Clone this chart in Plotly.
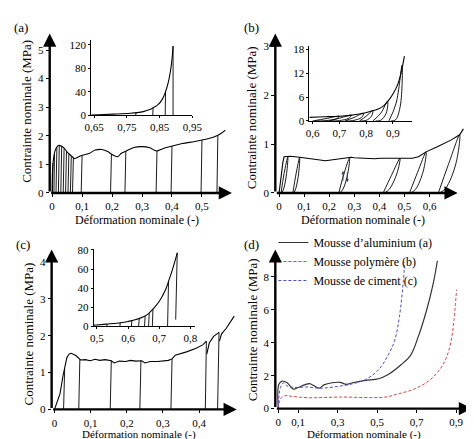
import plotly.graph_objects as go

W, H = 474, 439
FONT = "Liberation Serif"

# ---------------- Panel (a): aluminium foam ----------------
a_strain = [0, 0.003, 0.0106, 0.021, 0.037, 0.053, 0.07, 0.074, 0.096, 0.123, 0.144, 0.166, 0.187,
            0.198, 0.219, 0.230, 0.246, 0.273, 0.3, 0.326, 0.348, 0.369, 0.401, 0.434, 0.476, 0.508,
            0.54, 0.562, 0.578]
a_stress = [0, 1.04, 1.5, 1.66, 1.6, 1.4, 1.24, 1.2, 1.3, 1.38, 1.5, 1.52, 1.44, 1.36, 1.27, 1.38,
            1.46, 1.59, 1.62, 1.58, 1.47, 1.55, 1.64, 1.73, 1.80, 1.87, 1.96, 2.07, 2.2]
a_unl_top_x = [0.003, 0.008, 0.016, 0.024, 0.032, 0.040, 0.048, 0.056, 0.064, 0.071, 0.1, 0.198,
               0.246, 0.35, 0.4, 0.5, 0.553]
a_unl_top_y = [1.04, 1.35, 1.6, 1.66, 1.63, 1.56, 1.46, 1.37, 1.28, 1.23, 1.31, 1.36, 1.46, 1.47,
               1.64, 1.85, 2.02]
a_unl_bot_x = [0.001, 0.006, 0.013, 0.021, 0.029, 0.037, 0.045, 0.053, 0.061, 0.068, 0.097, 0.195,
               0.243, 0.347, 0.397, 0.497, 0.55]
a_xticks = [0, 0.1, 0.2, 0.3, 0.4, 0.5]
a_xlabels = ["0", "0,1", "0,2", "0,3", "0,4", "0,5"]
a_yticks = [0, 1, 2, 3, 4, 5]
a_ylabels = ["0", "1", "2", "3", "4", "5"]

# inset (a)
ai_strain = [0.641, 0.68, 0.72, 0.76, 0.78, 0.80, 0.82, 0.83, 0.845, 0.858, 0.868, 0.876, 0.883,
             0.888, 0.891]
ai_stress = [0.3, 1.0, 2.0, 3.3, 4.3, 6.0, 9.5, 12.5, 18, 27, 40, 55, 75, 97, 118]
ai_unl_top_x = [0.665, 0.778, 0.83, 0.868, 0.891]
ai_unl_top_y = [0.8, 4.2, 12.5, 40, 118]
ai_unl_bot_x = [0.664, 0.777, 0.829, 0.867, 0.891]
ai_xticks = [0.65, 0.75, 0.85, 0.95]
ai_xlabels = ["0,65", "0,75", "0,85", "0,95"]
ai_yticks = [0, 40, 80, 120]
ai_ylabels = ["0", "40", "80", "120"]

# ---------------- Panel (b): polymer foam ----------------
b_strain = [0, 0.008, 0.015, 0.02, 0.044, 0.082, 0.1, 0.133, 0.15, 0.185, 0.2, 0.236, 0.25, 0.287,
            0.3, 0.338, 0.35, 0.38, 0.403, 0.43, 0.467, 0.5, 0.531, 0.556, 0.586, 0.633, 0.685,
            0.72, 0.735]
b_stress = [0, 0.35, 0.62, 0.74, 0.75, 0.73, 0.72, 0.69, 0.68, 0.66, 0.67, 0.69, 0.71, 0.73, 0.72,
            0.71, 0.72, 0.70, 0.71, 0.71, 0.71, 0.70, 0.71, 0.74, 0.84, 0.95, 1.08, 1.19, 1.31]
b_loops_x = [[0.008, 0.02, 0.035, 0.03, 0.018, 0.01],
             [0.055, 0.068, 0.082, 0.078, 0.066, 0.058],
             [0.238, 0.258, 0.281, 0.274, 0.255, 0.242],
             [0.415, 0.448, 0.482, 0.47, 0.44, 0.42],
             [0.52, 0.552, 0.586, 0.575, 0.545, 0.525],
             [0.635, 0.675, 0.72, 0.705, 0.665, 0.64]]
b_loops_y = [[0, 0.4, 0.74, 0.4, 0.08, 0],
             [0, 0.4, 0.73, 0.4, 0.08, 0],
             [0, 0.38, 0.72, 0.4, 0.08, 0],
             [0, 0.36, 0.71, 0.4, 0.08, 0],
             [0, 0.42, 0.84, 0.45, 0.08, 0],
             [0, 0.58, 1.19, 0.6, 0.1, 0]]
b_xticks = [0, 0.1, 0.2, 0.3, 0.4, 0.5, 0.6]
b_xlabels = ["0", "0,1", "0,2", "0,3", "0,4", "0,5", "0,6"]
b_yticks = [0, 1, 2, 3]
b_ylabels = ["0", "1", "2", "3"]

# inset (b)
bi_strain = [0.588, 0.62, 0.66, 0.70, 0.74, 0.78, 0.82, 0.845, 0.865, 0.883, 0.90, 0.917, 0.93, 0.943]
bi_stress = [0.9, 1.0, 1.1, 1.2, 1.4, 1.8, 2.5, 3.0, 3.8, 5.1, 6.8, 9.0, 12.0, 16.3]
bi_loops_x = [[0.60, 0.65, 0.70, 0.69, 0.65, 0.61],
              [0.66, 0.70, 0.745, 0.735, 0.70, 0.67],
              [0.72, 0.755, 0.79, 0.783, 0.75, 0.725],
              [0.775, 0.80, 0.825, 0.82, 0.80, 0.78],
              [0.825, 0.855, 0.88, 0.875, 0.855, 0.835],
              [0.885, 0.912, 0.934, 0.928, 0.91, 0.893]]
bi_loops_y = [[0, 0.6, 1.2, 0.6, 0.1, 0],
              [0, 0.7, 1.45, 0.7, 0.1, 0],
              [0, 0.9, 1.95, 0.9, 0.1, 0],
              [0, 1.2, 2.6, 1.2, 0.15, 0],
              [0, 2.0, 5.0, 2.0, 0.2, 0],
              [0, 4.5, 14.0, 4.0, 0.3, 0]]
bi_xticks = [0.6, 0.7, 0.8, 0.9]
bi_xlabels = ["0,6", "0,7", "0,8", "0,9"]
bi_yticks = [0, 6, 12, 18]
bi_ylabels = ["0", "6", "12", "18"]

# ---------------- Panel (c): cement foam ----------------
c_strain = [0, 0.006, 0.015, 0.024, 0.028, 0.034, 0.040, 0.046, 0.059, 0.072, 0.085, 0.099, 0.112,
            0.125, 0.14, 0.157, 0.165, 0.18, 0.196, 0.21, 0.225, 0.241, 0.25, 0.265, 0.285, 0.30,
            0.315, 0.325, 0.334, 0.365, 0.39, 0.41, 0.42]
c_stress = [0, 0.15, 0.42, 0.94, 1.1, 1.4, 1.5, 1.52, 1.46, 1.34, 1.35, 1.32, 1.36, 1.33, 1.35,
            1.32, 1.26, 1.31, 1.30, 1.33, 1.31, 1.32, 1.26, 1.3, 1.30, 1.32, 1.33, 1.37, 1.47, 1.56,
            1.65, 1.75, 1.85]
c_seg2_strain = [0.421, 0.428, 0.44, 0.455]
c_seg2_stress = [1.5, 1.8, 1.98, 2.09]
c_seg3_strain = [0.456, 0.462, 0.475, 0.497]
c_seg3_stress = [1.85, 2.05, 2.2, 2.53]
c_unl_top_x = [0.028, 0.07, 0.157, 0.239, 0.325, 0.42, 0.455]
c_unl_top_y = [1.1, 1.35, 1.32, 1.32, 1.37, 1.85, 2.09]
c_unl_bot_x = [0.025, 0.067, 0.154, 0.236, 0.322, 0.417, 0.451]
c_xticks = [0, 0.1, 0.2, 0.3, 0.4]
c_xlabels = ["0", "0,1", "0,2", "0,3", "0,4"]
c_yticks = [0, 1, 2, 3, 4]
c_ylabels = ["0", "1", "2", "3", "4"]

# inset (c)
ci_strain = [0.49, 0.53, 0.577, 0.60, 0.62, 0.65, 0.665, 0.68, 0.70, 0.72, 0.73, 0.745, 0.758]
ci_stress = [1, 2.2, 3.7, 5, 6.5, 10, 13, 18, 26, 38, 47, 62, 77]
ci_unl_top_x = [0.533, 0.575, 0.612, 0.636, 0.655, 0.668, 0.68, 0.73, 0.758]
ci_unl_top_y = [2.3, 3.7, 5.8, 8.0, 10.8, 13.3, 18, 47, 77]
ci_unl_bot_x = [0.532, 0.574, 0.611, 0.634, 0.653, 0.666, 0.678, 0.727, 0.753]
ci_unl_bot_y = [0, 0, 0, 0, 0, 0, 0, 0, 7]
ci_xticks = [0.5, 0.6, 0.7, 0.8]
ci_xlabels = ["0,5", "0,6", "0,7", "0,8"]
ci_yticks = [0, 20, 40, 60, 80]
ci_ylabels = ["0", "20", "40", "60", "80"]

# ---------------- Panel (d): comparison ----------------
d_alu_strain = [0, 0.003, 0.02, 0.045, 0.077, 0.1, 0.133, 0.158, 0.182, 0.207, 0.231, 0.272, 0.312,
                0.345, 0.377, 0.442, 0.507, 0.556, 0.621, 0.67, 0.71, 0.751, 0.784, 0.805]
d_alu_stress = [0, 1.48, 1.67, 1.57, 1.18, 1.28, 1.44, 1.52, 1.38, 1.24, 1.44, 1.57, 1.59, 1.47,
                1.57, 1.71, 1.81, 2.07, 2.66, 3.25, 4.43, 6.0, 7.6, 8.97]
d_pol_strain = [0, 0.011, 0.033, 0.069, 0.15, 0.31, 0.54, 0.605, 0.686, 0.76, 0.816, 0.849, 0.873,
                0.889, 0.902]
d_pol_stress = [0, 0.6, 0.78, 0.74, 0.66, 0.7, 0.7, 0.89, 1.18, 1.67, 2.36, 3.05, 4.04, 5.41, 7.22]
d_cim_strain = [0, 0.011, 0.028, 0.044, 0.08, 0.145, 0.207, 0.28, 0.377, 0.442, 0.507, 0.556,
                0.589, 0.613, 0.633, 0.64]
d_cim_stress = [0, 1.28, 1.57, 1.38, 1.28, 1.31, 1.24, 1.31, 1.51, 1.77, 2.36, 3.25, 4.14, 5.6,
                7.78, 8.9]
d_names = ["Mousse d’aluminium (a)", "Mousse polymère (b)", "Mousse de ciment (c)"]
d_xticks = [0, 0.1, 0.3, 0.5, 0.7, 0.9]
d_xlabels = ["0", "0,1", "0,3", "0,5", "0,7", "0,9"]
d_yticks = [0, 2, 4, 6, 8]
d_ylabels = ["0", "2", "4", "6", "8"]

AXIS_TITLE_X = "Déformation nominale (-)"
AXIS_TITLE_Y = "Contrainte nominale (MPa)"

S = 6  # bottom row lifted a few pixels so its axis titles fit in the page


def dx(p0, p1):
    return [p0 / W, p1 / W]


def dy(ptop, pbot):
    return [1 - pbot / H, 1 - ptop / H]


def segs(x0s, y0s, x1s, y1s):
    xs, ys = [], []
    for a, b, c, d in zip(x0s, y0s, x1s, y1s):
        xs += [a, c, None]
        ys += [b, d, None]
    return xs, ys


def loops(lx, ly):
    xs, ys = [], []
    for a, b in zip(lx, ly):
        xs += list(a) + [None]
        ys += list(b) + [None]
    return xs, ys


fig = go.Figure()
BLK = dict(color="black", width=1.1)
THIN = dict(color="black", width=0.9)

# panel a
fig.add_trace(go.Scatter(x=a_strain, y=a_stress, mode="lines", line=dict(BLK, shape="spline"),
                         xaxis="x", yaxis="y", showlegend=False))
ux, uy = segs(a_unl_top_x, a_unl_top_y, a_unl_bot_x, [0] * len(a_unl_bot_x))
fig.add_trace(go.Scatter(x=ux, y=uy, mode="lines", line=THIN, xaxis="x", yaxis="y", showlegend=False))
fig.add_trace(go.Scatter(x=ai_strain, y=ai_stress, mode="lines", line=dict(BLK, shape="spline"),
                         xaxis="x5", yaxis="y5", showlegend=False))
ux, uy = segs(ai_unl_top_x, ai_unl_top_y, ai_unl_bot_x, [0] * len(ai_unl_bot_x))
fig.add_trace(go.Scatter(x=ux, y=uy, mode="lines", line=THIN, xaxis="x5", yaxis="y5", showlegend=False))

# panel b
fig.add_trace(go.Scatter(x=b_strain, y=b_stress, mode="lines", line=BLK,
                         xaxis="x2", yaxis="y2", showlegend=False))
lx, ly = loops(b_loops_x, b_loops_y)
fig.add_trace(go.Scatter(x=lx, y=ly, mode="lines", line=dict(THIN, shape="spline"),
                         xaxis="x2", yaxis="y2", showlegend=False))
fig.add_trace(go.Scatter(x=bi_strain, y=bi_stress, mode="lines", line=dict(BLK, shape="spline"),
                         xaxis="x6", yaxis="y6", showlegend=False))
lx, ly = loops(bi_loops_x, bi_loops_y)
fig.add_trace(go.Scatter(x=lx, y=ly, mode="lines", line=dict(THIN, shape="spline"),
                         xaxis="x6", yaxis="y6", showlegend=False))

# panel c
for xs, ys in [(c_strain, c_stress), (c_seg2_strain, c_seg2_stress), (c_seg3_strain, c_seg3_stress)]:
    fig.add_trace(go.Scatter(x=xs, y=ys, mode="lines", line=BLK, xaxis="x3", yaxis="y3",
                             showlegend=False))
ux, uy = segs(c_unl_top_x, c_unl_top_y, c_unl_bot_x, [0] * len(c_unl_bot_x))
fig.add_trace(go.Scatter(x=ux, y=uy, mode="lines", line=THIN, xaxis="x3", yaxis="y3", showlegend=False))
fig.add_trace(go.Scatter(x=ci_strain, y=ci_stress, mode="lines", line=dict(BLK, shape="spline"),
                         xaxis="x7", yaxis="y7", showlegend=False))
ux, uy = segs(ci_unl_top_x, ci_unl_top_y, ci_unl_bot_x, ci_unl_bot_y)
fig.add_trace(go.Scatter(x=ux, y=uy, mode="lines", line=THIN, xaxis="x7", yaxis="y7", showlegend=False))

# panel d
fig.add_trace(go.Scatter(x=d_alu_strain, y=d_alu_stress, mode="lines", name=d_names[0],
                         line=dict(color="#333333", width=1.2, shape="spline"), xaxis="x4", yaxis="y4"))
fig.add_trace(go.Scatter(x=d_pol_strain, y=d_pol_stress, mode="lines", name=d_names[1],
                         line=dict(color="#ee3b3b", width=1, dash="3px,2px", shape="spline"),
                         xaxis="x4", yaxis="y4"))
fig.add_trace(go.Scatter(x=d_cim_strain, y=d_cim_stress, mode="lines", name=d_names[2],
                         line=dict(color="#4a4ae0", width=1, dash="3px,2px", shape="spline"),
                         xaxis="x4", yaxis="y4"))

tickfont = dict(family=FONT, size=11, color="black")


def main_axes(xdom, xr, xt, xl, ydom, yr, yt, yl, yanchor, xanchor):
    xa = dict(domain=xdom, range=xr, tickvals=xt, ticktext=xl, anchor=yanchor, showgrid=False,
              zeroline=False, showline=False, ticks="outside", ticklen=3, tickwidth=1.2,
              tickcolor="black", tickfont=tickfont, fixedrange=True)
    ya = dict(domain=ydom, range=yr, tickvals=yt, ticktext=yl, anchor=xanchor, showgrid=False,
              zeroline=False, showline=False, ticks="outside", ticklen=3, tickwidth=1.2,
              tickcolor="black", tickfont=tickfont, fixedrange=True)
    return xa, ya


def inset_axes(xdom, xr, xt, xl, ydom, yr, yt, yl, yanchor, xanchor):
    xa, ya = main_axes(xdom, xr, xt, xl, ydom, yr, yt, yl, yanchor, xanchor)
    for ax in (xa, ya):
        ax.update(showline=True, linecolor="black", linewidth=1, ticklen=2)
    return xa, ya


layout = dict(width=W, height=H, margin=dict(l=0, r=0, t=0, b=0), paper_bgcolor="white",
              plot_bgcolor="rgba(0,0,0,0)", font=dict(family=FONT, color="black"))

specs = {
    "": main_axes(dx(36, 225), [-0.008, 0.6], a_xticks, a_xlabels, dy(20, 184), [0, 5.58],
                  a_yticks, a_ylabels, "y", "x"),
    "2": main_axes(dx(270, 466.4), [-0.015, 0.74], b_xticks, b_xlabels, dy(20, 184), [0, 3.26],
                   b_yticks, b_ylabels, "y2", "x2"),
    "3": main_axes(dx(38, 230), [-0.008, 0.504], c_xticks, c_xlabels, dy(248 - S, 412.5 - S),
                   [0, 4.34], c_yticks, c_ylabels, "y3", "x3"),
    "4": main_axes(dx(270, 474), [-0.015, 0.98], d_xticks, d_xlabels, dy(248 - S, 411.7 - S),
                   [0, 9.66], d_yticks, d_ylabels, "y4", "x4"),
    "5": inset_axes(dx(79, 184), [0.641, 0.95], ai_xticks, ai_xlabels, dy(27, 104), [0, 128],
                    ai_yticks, ai_ylabels, "y5", "x5"),
    "6": inset_axes(dx(305.3, 412), [0.588, 0.972], bi_xticks, bi_xlabels, dy(33, 110), [0, 18.8],
                    bi_yticks, bi_ylabels, "y6", "x6"),
    "7": inset_axes(dx(81.7, 186.7), [0.49, 0.815], ci_xticks, ci_xlabels, dy(248 - S, 327 - S),
                    [0, 80.6], ci_yticks, ci_ylabels, "y7", "x7"),
}
for k, (xa, ya) in specs.items():
    layout["xaxis" + k] = xa
    layout["yaxis" + k] = ya

layout["legend"] = dict(x=268 / W, y=1 - (226 - S) / H, xanchor="left", yanchor="top",
                        bgcolor="rgba(0,0,0,0)", font=dict(family=FONT, size=12, color="black"),
                        tracegroupgap=0, itemwidth=30)

ann = []
# axis arrows for main panels
for k, x0, x1, y1 in [("", -0.008, 0.6, 5.58), ("2", -0.015, 0.712, 3.26),
                      ("3", -0.008, 0.504, 4.34), ("4", -0.015, 0.98, 9.66)]:
    xr_, yr_ = "x" + k, "y" + k
    ann.append(dict(x=x1, y=0, ax=x0, ay=0, xref=xr_, yref=yr_, axref=xr_, ayref=yr_, text="",
                    showarrow=True, arrowhead=2, arrowsize=1.1, arrowwidth=2.4, arrowcolor="black"))
    ann.append(dict(x=x0, y=y1, ax=x0, ay=0, xref=xr_, yref=yr_, axref=xr_, ayref=yr_, text="",
                    showarrow=True, arrowhead=2, arrowsize=1.1, arrowwidth=2.4, arrowcolor="black"))

# small loading/unloading arrows in panel b
ann.append(dict(x=0.255, y=0.45, ax=0.255, ay=0.22, xref="x2", yref="y2", axref="x2", ayref="y2",
                text="", showarrow=True, arrowhead=2, arrowsize=0.8, arrowwidth=0.8))
ann.append(dict(x=0.272, y=0.22, ax=0.272, ay=0.45, xref="x2", yref="y2", axref="x2", ayref="y2",
                text="", showarrow=True, arrowhead=2, arrowsize=0.8, arrowwidth=0.8))


def txt(t, px, py, size, angle=0, xanchor="center"):
    return dict(text=t, x=px / W, y=1 - py / H, xref="paper", yref="paper", showarrow=False,
                textangle=angle, xanchor=xanchor, yanchor="middle", borderpad=0,
                font=dict(family=FONT, size=size, color="black"))


ann += [txt("(a)", -2, 14, 13, xanchor="left"), txt("(b)", 236, 14, 13, xanchor="left"),
        txt("(c)", 0, 243 - S, 13, xanchor="left"), txt("(d)", 236, 243 - S, 13, xanchor="left")]
ann += [txt(AXIS_TITLE_Y, 12, 100, 13, -90), txt(AXIS_TITLE_Y, 245, 107, 13, -90),
        txt(AXIS_TITLE_Y, 13, 335 - S, 13, -90), txt(AXIS_TITLE_Y, 246, 331 - S, 13, -90)]
ann += [txt(AXIS_TITLE_X, 127, 212, 12), txt(AXIS_TITLE_X, 361, 212, 12),
        txt(AXIS_TITLE_X, 129, 432, 11), txt(AXIS_TITLE_X, 362, 432, 11)]
layout["annotations"] = ann

fig.update_layout(**layout)
fig.write_html("out.html")
